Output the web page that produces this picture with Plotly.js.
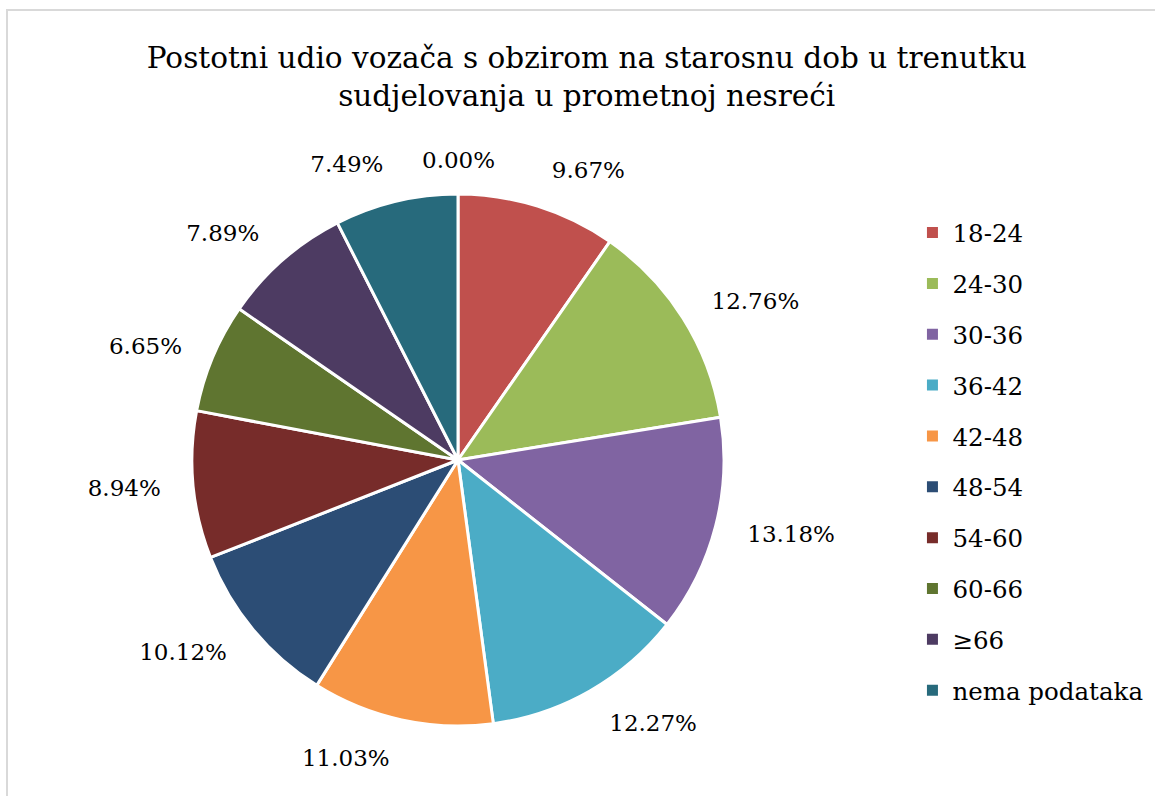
<!DOCTYPE html>
<html>
<head>
<meta charset="utf-8">
<script src="https://cdn.plot.ly/plotly-3.0.1.min.js"></script>
<style>
  html, body { margin: 0; padding: 0; background: #ffffff; overflow: hidden; }
  #wrap { position: relative; width: 1155px; height: 796px; }
  #chart { position: absolute; left: 0; top: 0; width: 1155px; height: 796px; }
  #frame { position: absolute; left: 6px; top: 9px; width: 1200px; height: 900px;
           border: 2px solid #d9d9d9; pointer-events: none; }
</style>
</head>
<body>
<div id="wrap">
  <div id="chart"></div>
  <div id="frame"></div>
</div>
<script>
// Data
const categories = ['18-24', '24-30', '30-36', '36-42', '42-48', '48-54', '54-60', '60-66', '\u226566', 'nema podataka'];
const shares = [9.67, 12.76, 13.18, 12.27, 11.03, 10.12, 8.94, 6.65, 7.89, 7.49];
// extra category present in the data with 0.00 % (not listed in the legend)
const extraCategory = 'ostalo';
const extraShare = 0.00;

const colors = ['#C0504D', '#9BBB59', '#8064A2', '#4BACC6', '#F79646',
                '#2C4D75', '#772C2A', '#5F7530', '#4D3B62', '#276A7C'];

const serif = 'DejaVu Serif';
const cx = 458, cy = 460, R = 266, RL = 292, W = 1155, H = 796;
function domainFor(r) {
  return { x: [(cx - r) / W, (cx + r) / W], y: [(H - cy - r) / H, (H - cy + r) / H] };
}

// visible pie
const pieTrace = {
  type: 'pie', labels: categories, values: shares, sort: false,
  direction: 'clockwise', rotation: 0, domain: domainFor(R),
  marker: { colors: colors, line: { color: '#ffffff', width: 3 } },
  textinfo: 'none', hoverinfo: 'label+percent', showlegend: false
};
// transparent, slightly larger pie carrying the percentage labels
const labelTrace = {
  type: 'pie', labels: categories, values: shares, sort: false,
  direction: 'clockwise', rotation: 0, domain: domainFor(RL),
  marker: { colors: categories.map(() => 'rgba(0,0,0,0)'), line: { width: 0 } },
  texttemplate: '%{value:.2f}%', textposition: 'outside',
  outsidetextfont: { family: serif, size: 23, color: '#000000' },
  hoverinfo: 'skip', showlegend: false
};
// legend entries, one group each so they get even spacing
const legendTraces = categories.map((c, i) => ({
  type: 'scatter', mode: 'markers', x: [null], y: [null], name: c,
  legendgroup: 'g' + i,
  marker: { symbol: 'square', size: 11, color: colors[i] },
  hoverinfo: 'skip'
}));

const layout = {
  width: W, height: H,
  margin: { l: 0, r: 0, t: 0, b: 0, autoexpand: false },
  paper_bgcolor: '#ffffff', plot_bgcolor: 'rgba(0,0,0,0)',
  xaxis: { visible: false }, yaxis: { visible: false },
  title: {
    text: 'Postotni udio vozača s obzirom na starosnu dob u trenutku<br>sudjelovanja u prometnoj nesreći',
    font: { family: serif, size: 29.5, color: '#000000' },
    x: 0.508, xanchor: 'center', y: 0.915, yanchor: 'top'
  },
  legend: {
    x: 0.79, xanchor: 'left', y: 0.736, yanchor: 'top',
    font: { family: serif, size: 24.5, color: '#000000' },
    traceorder: 'grouped', tracegroupgap: 16
  },
  // the 0.00 % share of the extra category, written at the top of the pie
  annotations: [{
    xref: 'paper', yref: 'paper', x: cx / W, y: (H - cy + R + 19) / H,
    xanchor: 'center', yanchor: 'bottom', showarrow: false,
    text: extraShare.toFixed(2) + '%',
    font: { family: serif, size: 23, color: '#000000' }
  }],
  showlegend: true
};

Plotly.newPlot('chart', [pieTrace, labelTrace].concat(legendTraces), layout,
  { displayModeBar: false, staticPlot: true });
</script>
</body>
</html>
